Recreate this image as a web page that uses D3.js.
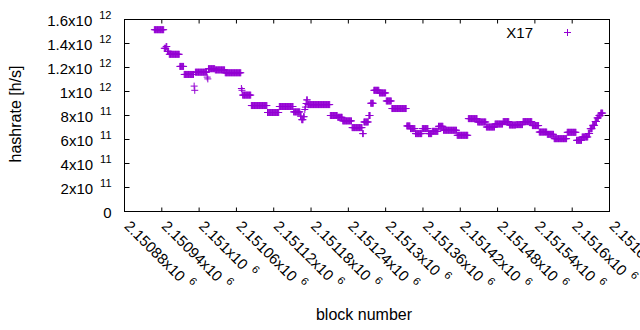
<!DOCTYPE html>
<html>
<head>
<meta charset="utf-8">
<script src="https://cdn.jsdelivr.net/npm/d3@7"></script>
<style>
  body { margin: 0; background: #fff; }
  svg { font-family: "Liberation Sans", Arial, sans-serif; }
</style>
</head>
<body>
<div id="chart"></div>
<script>
/* DATA */
// block ranges over which the hashrate estimate stays flat (one point per block)
var runFirst = [2150928, 2150944, 2150947, 2150949, 2150952, 2150969, 2150976, 2150992, 2150993, 2150994,
  2151013, 2151014, 2151015, 2151026, 2151042, 2151068, 2151069, 2151070, 2151084, 2151110,
  2151129, 2151152, 2151163, 2151165, 2151168, 2151170, 2151171, 2151172, 2151173, 2151175,
  2151211, 2151223, 2151231, 2151246, 2151263, 2151265, 2151273, 2151276, 2151281, 2151290,
  2151301, 2151310, 2151334, 2151340, 2151348, 2151359, 2151369, 2151375, 2151385, 2151393,
  2151415, 2151433, 2151448, 2151462, 2151476, 2151489, 2151499, 2151510, 2151521, 2151536,
  2151547, 2151560, 2151571, 2151592, 2151607, 2151616, 2151626, 2151629, 2151633, 2151637,
  2151640, 2151643, 2151646];
var runLast = [2150943, 2150946, 2150948, 2150951, 2150968, 2150975, 2150991, 2150992, 2150993, 2151012,
  2151013, 2151014, 2151025, 2151041, 2151067, 2151068, 2151069, 2151083, 2151109, 2151128,
  2151151, 2151162, 2151164, 2151167, 2151169, 2151170, 2151171, 2151172, 2151174, 2151210,
  2151222, 2151230, 2151245, 2151262, 2151264, 2151272, 2151275, 2151280, 2151289, 2151300,
  2151309, 2151333, 2151339, 2151347, 2151358, 2151368, 2151374, 2151384, 2151392, 2151414,
  2151432, 2151447, 2151461, 2151475, 2151488, 2151498, 2151509, 2151520, 2151535, 2151546,
  2151559, 2151570, 2151591, 2151606, 2151615, 2151625, 2151628, 2151632, 2151636, 2151639,
  2151642, 2151645, 2151649];
var runRate = [15.15e11, 13.6e11, 13.75e11, 13.35e11, 13.1e11, 12.09e11, 11.42e11, 10.45e11, 10.1e11, 11.61e11,
  11.2e11, 11.05e11, 11.9e11, 11.8e11, 11.56e11, 10.25e11, 10.1e11, 9.7e11, 8.83e11, 8.25e11,
  8.75e11, 8.3e11, 7.95e11, 7.65e11, 7.9e11, 8.5e11, 8.7e11, 9.0e11, 9.3e11, 8.91e11,
  8.0e11, 7.85e11, 7.55e11, 6.99e11, 6.49e11, 7.46e11, 8.0e11, 9.02e11, 10.1e11, 9.88e11,
  9.21e11, 8.58e11, 7.13e11, 6.91e11, 6.49e11, 6.91e11, 6.49e11, 6.68e11, 7.1e11, 6.77e11,
  6.35e11, 7.74e11, 7.46e11, 7.04e11, 7.29e11, 7.49e11, 7.21e11, 7.24e11, 7.49e11, 7.16e11,
  6.62e11, 6.43e11, 6.07e11, 6.6e11, 5.93e11, 6.21e11, 6.5e11, 6.9e11, 7.18e11, 7.5e11,
  7.8e11, 8.0e11, 8.2e11];

var xTicks = [2150880, 2150940, 2151000, 2151060, 2151120, 2151180, 2151240,
  2151300, 2151360, 2151420, 2151480, 2151540, 2151600, 2151660];
var yTicks = [0, 2e11, 4e11, 6e11, 8e11, 1e12, 1.2e12, 1.4e12, 1.6e12];
var seriesName = "X17";

/* CONSTANTS */
var width = 640,
  height = 330;
var plot = {left: 124.5, right: 609.5, top: 19.5, bottom: 211.5};
var purple = "#9400d3";
var cross = "M-3.5,0H3.5M0,-3.5V3.5";

// one point per block
var points = [];
runFirst.forEach(function(b, i) {
  for (var n = b; n <= runLast[i]; n++) points.push({block: n, rate: runRate[i]});
});

/* SCALES */
var xScale = d3.scaleLinear()
  .domain([xTicks[0], xTicks[xTicks.length - 1]])
  .range([plot.left, plot.right]);

var yScale = d3.scaleLinear()
  .domain([yTicks[0], yTicks[yTicks.length - 1]])
  .range([plot.bottom, plot.top]);

// "1.6x10" + exponent, gnuplot style
function sciParts(v) {
  if (v === 0) return ["0", null];
  var e = Math.floor(Math.log10(v) + 1e-9);
  var m = +(v / Math.pow(10, e)).toFixed(6);
  return [m + "x10", e];
}

/* DRAW */
var svg = d3.select("#chart").append("svg")
  .attr("width", width)
  .attr("height", height);

svg.append("rect")
  .attr("width", width).attr("height", height)
  .attr("fill", "#fff");

// ticks on all four sides, pointing inward
function noDomain(g) { g.select(".domain").remove(); g.selectAll("line").attr("stroke", "#000"); }

svg.append("g")
  .attr("transform", "translate(0," + plot.bottom + ")")
  .call(d3.axisBottom(xScale).tickValues(xTicks).tickSize(-4).tickFormat("").offset(0))
  .call(noDomain);
svg.append("g")
  .attr("transform", "translate(0," + plot.top + ")")
  .call(d3.axisTop(xScale).tickValues(xTicks).tickSize(-4).tickFormat("").offset(0))
  .call(noDomain);
svg.append("g")
  .attr("transform", "translate(" + plot.left + ",0)")
  .call(d3.axisLeft(yScale).tickValues(yTicks).tickSize(-5).tickFormat("").offset(0))
  .call(noDomain);
svg.append("g")
  .attr("transform", "translate(" + plot.right + ",0)")
  .call(d3.axisRight(yScale).tickValues(yTicks).tickSize(-5).tickFormat("").offset(0))
  .call(noDomain);

// border
svg.append("rect")
  .attr("x", plot.left).attr("y", plot.top)
  .attr("width", plot.right - plot.left)
  .attr("height", plot.bottom - plot.top)
  .attr("fill", "none")
  .attr("stroke", "#000");

// y tick labels
var yLab = svg.selectAll(".ylab")
  .data(yTicks)
  .enter().append("text")
  .attr("class", "ylab")
  .attr("x", 111.5)
  .attr("y", function(d) { return yScale(d) + 6; })
  .attr("text-anchor", "end")
  .attr("font-size", 15)
  .attr("fill", "#000");
yLab.append("tspan").text(function(d) { return sciParts(d)[0]; });
yLab.filter(function(d) { return d !== 0; })
  .append("tspan")
  .attr("dx", 7).attr("dy", -7)
  .attr("font-size", 11)
  .text(function(d) { return sciParts(d)[1]; });

// x tick labels, rotated
var xLab = svg.selectAll(".xlab")
  .data(xTicks)
  .enter().append("text")
  .attr("class", "xlab")
  .attr("transform", function(d) { return "translate(" + (xScale(d) - 1) + ",227) rotate(45)"; })
  .attr("font-size", 15)
  .attr("fill", "#000");
xLab.append("tspan").text(function(d) { return sciParts(d)[0]; });
xLab.append("tspan")
  .attr("dx", 6).attr("dy", -7)
  .attr("font-size", 11)
  .text(function(d) { return sciParts(d)[1]; });

// axis titles
svg.append("text")
  .attr("transform", "translate(21,114) rotate(-90)")
  .attr("text-anchor", "middle")
  .attr("font-size", 16)
  .text("hashrate [h/s]");

svg.append("text")
  .attr("x", 364)
  .attr("y", 320)
  .attr("text-anchor", "middle")
  .attr("font-size", 16)
  .text("block number");

// the points
svg.append("g").selectAll("path")
  .data(points)
  .enter().append("path")
  .attr("transform", function(d) { return "translate(" + xScale(d.block) + "," + yScale(d.rate) + ")"; })
  .attr("d", cross)
  .attr("stroke", purple)
  .attr("stroke-width", 1)
  .attr("fill", "none");

// legend
svg.append("text")
  .attr("x", 533)
  .attr("y", 37.5)
  .attr("text-anchor", "end")
  .attr("font-size", 15)
  .text(seriesName);
svg.append("path")
  .attr("transform", "translate(567.5,32.5)")
  .attr("d", cross)
  .attr("stroke", purple)
  .attr("fill", "none");
</script>
</body>
</html>
